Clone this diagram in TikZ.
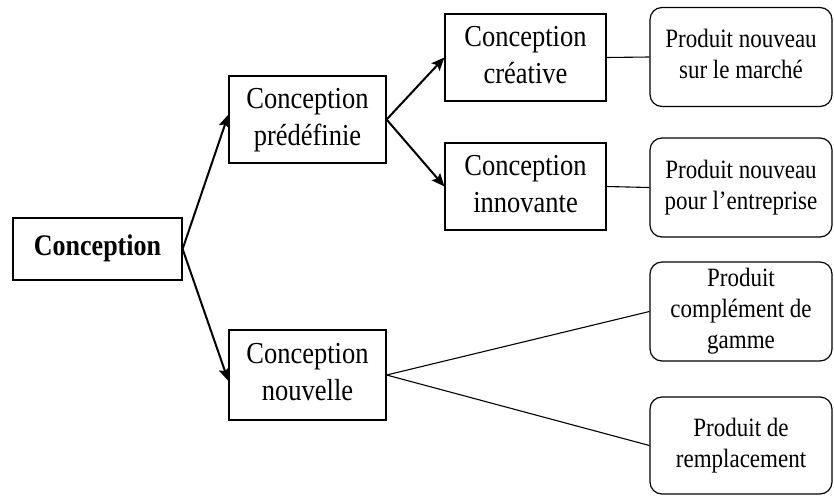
\documentclass[tikz,border=0pt]{standalone}
\usepackage{graphicx}
\usepackage{fontspec}
\setmainfont{Liberation Serif}
\usetikzlibrary{arrows.meta}
\newcommand{\vtext}[1]{\scalebox{1}[1.15]{\begin{tabular}{@{}c@{}}#1\end{tabular}}}
\begin{document}
\begin{tikzpicture}[x=1pt,y=-1pt,
  cbox/.style={draw, line width=1.2pt, inner sep=0pt, align=center, font=\fontsize{26.5}{32}\selectfont},
  pbox/.style={draw, line width=1.2pt, rounded corners=12pt, inner sep=0pt, align=center, minimum width=182pt, minimum height=99pt, font=\fontsize{23}{27}\selectfont},
  arr/.style={line width=2pt, -{Stealth[length=13pt,width=11pt,inset=2.5pt]}},
  lnk/.style={line width=1.1pt}]
\useasboundingbox (0,0) rectangle (834,496);
\node[cbox, minimum width=169pt, minimum height=62pt, font=\fontsize{26}{30}\selectfont\bfseries] (c) at (97.5,249) {\vtext{Conception}};
\node[cbox, minimum width=157pt, minimum height=87pt] (pred) at (307.5,119.5) {\vtext{Conception\\prédéfinie}};
\node[cbox, minimum width=157pt, minimum height=90pt] (nouv) at (307.5,375) {\vtext{Conception\\nouvelle}};
\node[cbox, minimum width=161pt, minimum height=87pt] (crea) at (525.5,57.5) {\vtext{Conception\\créative}};
\node[cbox, minimum width=161pt, minimum height=87pt] (inno) at (525.5,186.5) {\vtext{Conception\\innovante}};
\node[pbox] (p1) at (741,57) {\vtext{Produit nouveau\\sur le marché}};
\node[pbox] (p2) at (741,187.5) {\vtext{Produit nouveau\\pour l’entreprise}};
\node[pbox] (p3) at (741,311.5) {\vtext{Produit\\complément de\\gamme}};
\node[pbox, minimum height=97pt] (p4) at (741,445.5) {\vtext{Produit de\\remplacement}};
\draw[arr] (c.east) -- ([yshift=5pt]pred.west);
\draw[arr] (c.east) -- ([yshift=-6pt]nouv.west);
\draw[arr] (pred.east) -- (crea.west);
\draw[arr] (pred.east) -- (inno.west);
\draw[lnk] (crea.east) -- (p1.west);
\draw[lnk] (inno.east) -- (p2.west);
\draw[lnk] (nouv.east) -- (p3.west);
\draw[lnk] (nouv.east) -- (p4.west);
\end{tikzpicture}
\end{document}
